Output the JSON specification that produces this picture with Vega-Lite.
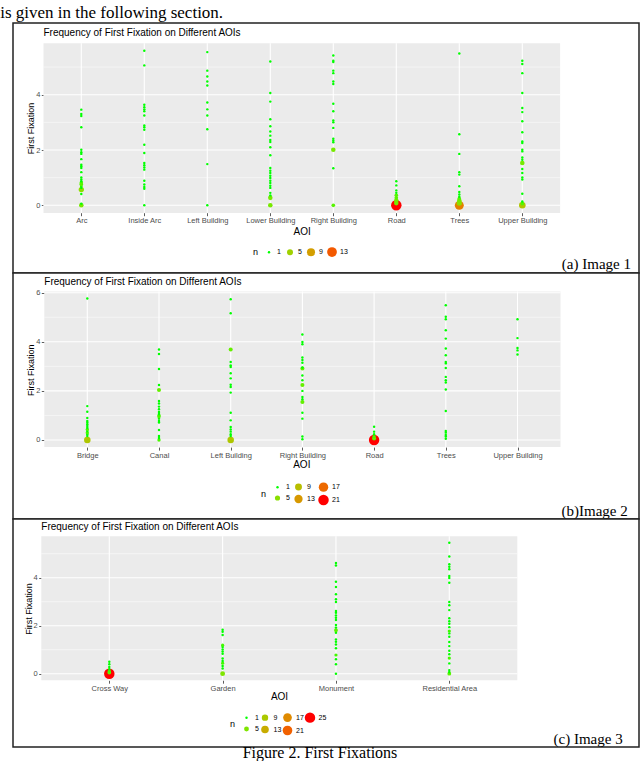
{
"$schema": "https://vega.github.io/schema/vega-lite/v6.json",
"padding": {"left": 0, "top": 4, "right": 0, "bottom": 0},
"background": "white",
"bounds": "flush",
"title": {"text": "is given in the following section.", "anchor": "start", "font": "Liberation Serif", "fontSize": 17, "fontWeight": "normal", "color": "#000", "dx": -12, "offset": 0},
"datasets": {
"p1": [
{"AOI":"Arc","ff":0,"n":3},{"AOI":"Arc","ff":0.06,"n":1},{"AOI":"Arc","ff":0.41,"n":1},{"AOI":"Arc","ff":0.57,"n":4},{"AOI":"Arc","ff":0.63,"n":1},{"AOI":"Arc","ff":0.69,"n":1},{"AOI":"Arc","ff":0.75,"n":2},{"AOI":"Arc","ff":0.81,"n":2},{"AOI":"Arc","ff":0.87,"n":1},{"AOI":"Arc","ff":0.93,"n":1},{"AOI":"Arc","ff":1.01,"n":1},{"AOI":"Arc","ff":1.2,"n":1},{"AOI":"Arc","ff":1.35,"n":1},{"AOI":"Arc","ff":1.41,"n":1},{"AOI":"Arc","ff":1.47,"n":1},{"AOI":"Arc","ff":1.67,"n":1},{"AOI":"Arc","ff":1.86,"n":1},{"AOI":"Arc","ff":1.92,"n":1},{"AOI":"Arc","ff":2.01,"n":1},{"AOI":"Arc","ff":2.82,"n":1},{"AOI":"Arc","ff":3.23,"n":1},{"AOI":"Arc","ff":3.3,"n":1},{"AOI":"Arc","ff":3.46,"n":1},
{"AOI":"Inside Arc","ff":0,"n":1},{"AOI":"Inside Arc","ff":0.6,"n":1},{"AOI":"Inside Arc","ff":0.66,"n":1},{"AOI":"Inside Arc","ff":0.75,"n":1},{"AOI":"Inside Arc","ff":0.89,"n":1},{"AOI":"Inside Arc","ff":1.29,"n":1},{"AOI":"Inside Arc","ff":1.37,"n":1},{"AOI":"Inside Arc","ff":1.45,"n":1},{"AOI":"Inside Arc","ff":1.53,"n":1},{"AOI":"Inside Arc","ff":1.89,"n":1},{"AOI":"Inside Arc","ff":2.19,"n":1},{"AOI":"Inside Arc","ff":2.73,"n":1},{"AOI":"Inside Arc","ff":2.82,"n":1},{"AOI":"Inside Arc","ff":2.89,"n":1},{"AOI":"Inside Arc","ff":3.25,"n":1},{"AOI":"Inside Arc","ff":3.4,"n":1},{"AOI":"Inside Arc","ff":3.47,"n":1},{"AOI":"Inside Arc","ff":3.55,"n":1},{"AOI":"Inside Arc","ff":3.64,"n":1},{"AOI":"Inside Arc","ff":5.06,"n":1},{"AOI":"Inside Arc","ff":5.59,"n":1},
{"AOI":"Left Building","ff":0,"n":1},{"AOI":"Left Building","ff":1.49,"n":1},{"AOI":"Left Building","ff":2.75,"n":1},{"AOI":"Left Building","ff":3.25,"n":1},{"AOI":"Left Building","ff":3.47,"n":1},{"AOI":"Left Building","ff":3.72,"n":1},{"AOI":"Left Building","ff":4.33,"n":1},{"AOI":"Left Building","ff":4.48,"n":1},{"AOI":"Left Building","ff":4.66,"n":1},{"AOI":"Left Building","ff":4.87,"n":1},{"AOI":"Left Building","ff":5.54,"n":1},
{"AOI":"Lower Building","ff":0,"n":3},{"AOI":"Lower Building","ff":0.27,"n":3},{"AOI":"Lower Building","ff":0.36,"n":1},{"AOI":"Lower Building","ff":0.45,"n":1},{"AOI":"Lower Building","ff":0.63,"n":1},{"AOI":"Lower Building","ff":0.71,"n":1},{"AOI":"Lower Building","ff":0.81,"n":1},{"AOI":"Lower Building","ff":0.89,"n":1},{"AOI":"Lower Building","ff":0.99,"n":1},{"AOI":"Lower Building","ff":1.07,"n":1},{"AOI":"Lower Building","ff":1.17,"n":1},{"AOI":"Lower Building","ff":1.25,"n":1},{"AOI":"Lower Building","ff":1.35,"n":1},{"AOI":"Lower Building","ff":1.81,"n":1},{"AOI":"Lower Building","ff":2.1,"n":1},{"AOI":"Lower Building","ff":2.29,"n":1},{"AOI":"Lower Building","ff":2.36,"n":1},{"AOI":"Lower Building","ff":2.52,"n":1},{"AOI":"Lower Building","ff":2.67,"n":1},{"AOI":"Lower Building","ff":2.86,"n":1},{"AOI":"Lower Building","ff":3.11,"n":1},{"AOI":"Lower Building","ff":3.75,"n":1},{"AOI":"Lower Building","ff":4.06,"n":1},{"AOI":"Lower Building","ff":5.2,"n":1},
{"AOI":"Right Building","ff":0,"n":2},{"AOI":"Right Building","ff":1.34,"n":1},{"AOI":"Right Building","ff":2.01,"n":3},{"AOI":"Right Building","ff":2.28,"n":1},{"AOI":"Right Building","ff":2.34,"n":1},{"AOI":"Right Building","ff":2.41,"n":1},{"AOI":"Right Building","ff":2.8,"n":1},{"AOI":"Right Building","ff":3.0,"n":1},{"AOI":"Right Building","ff":3.07,"n":1},{"AOI":"Right Building","ff":3.4,"n":1},{"AOI":"Right Building","ff":3.67,"n":1},{"AOI":"Right Building","ff":4.39,"n":1},{"AOI":"Right Building","ff":4.48,"n":1},{"AOI":"Right Building","ff":4.78,"n":1},{"AOI":"Right Building","ff":4.87,"n":1},{"AOI":"Right Building","ff":5.18,"n":1},{"AOI":"Right Building","ff":5.23,"n":1},{"AOI":"Right Building","ff":5.42,"n":1},
{"AOI":"Road","ff":0,"n":15},{"AOI":"Road","ff":0.08,"n":3},{"AOI":"Road","ff":0.17,"n":3},{"AOI":"Road","ff":0.27,"n":2},{"AOI":"Road","ff":0.36,"n":2},{"AOI":"Road","ff":0.45,"n":1},{"AOI":"Road","ff":0.54,"n":1},{"AOI":"Road","ff":0.72,"n":1},{"AOI":"Road","ff":0.87,"n":1},
{"AOI":"Trees","ff":0,"n":11},{"AOI":"Trees","ff":0.08,"n":4},{"AOI":"Trees","ff":0.17,"n":3},{"AOI":"Trees","ff":0.24,"n":2},{"AOI":"Trees","ff":0.31,"n":1},{"AOI":"Trees","ff":0.39,"n":1},{"AOI":"Trees","ff":0.48,"n":1},{"AOI":"Trees","ff":0.69,"n":1},{"AOI":"Trees","ff":1.11,"n":1},{"AOI":"Trees","ff":1.2,"n":1},{"AOI":"Trees","ff":1.86,"n":1},{"AOI":"Trees","ff":2.57,"n":1},{"AOI":"Trees","ff":5.49,"n":1},
{"AOI":"Upper Building","ff":0,"n":6},{"AOI":"Upper Building","ff":0.06,"n":2},{"AOI":"Upper Building","ff":0.14,"n":1},{"AOI":"Upper Building","ff":0.42,"n":1},{"AOI":"Upper Building","ff":0.93,"n":1},{"AOI":"Upper Building","ff":1.01,"n":1},{"AOI":"Upper Building","ff":1.17,"n":1},{"AOI":"Upper Building","ff":1.31,"n":1},{"AOI":"Upper Building","ff":1.53,"n":3},{"AOI":"Upper Building","ff":1.65,"n":1},{"AOI":"Upper Building","ff":1.73,"n":1},{"AOI":"Upper Building","ff":1.95,"n":1},{"AOI":"Upper Building","ff":2.01,"n":1},{"AOI":"Upper Building","ff":2.25,"n":1},{"AOI":"Upper Building","ff":2.31,"n":1},{"AOI":"Upper Building","ff":2.64,"n":1},{"AOI":"Upper Building","ff":3.04,"n":1},{"AOI":"Upper Building","ff":3.37,"n":1},{"AOI":"Upper Building","ff":3.52,"n":1},{"AOI":"Upper Building","ff":4.06,"n":1},{"AOI":"Upper Building","ff":4.78,"n":1},{"AOI":"Upper Building","ff":5.11,"n":1},{"AOI":"Upper Building","ff":5.23,"n":1}
],
"p2": [
{"AOI":"Bridge","ff":0,"n":8},{"AOI":"Bridge","ff":0.16,"n":1},{"AOI":"Bridge","ff":0.23,"n":1},{"AOI":"Bridge","ff":0.3,"n":2},{"AOI":"Bridge","ff":0.37,"n":1},{"AOI":"Bridge","ff":0.43,"n":2},{"AOI":"Bridge","ff":0.5,"n":1},{"AOI":"Bridge","ff":0.57,"n":1},{"AOI":"Bridge","ff":0.64,"n":1},{"AOI":"Bridge","ff":0.71,"n":1},{"AOI":"Bridge","ff":0.77,"n":1},{"AOI":"Bridge","ff":0.9,"n":1},{"AOI":"Bridge","ff":1.15,"n":1},{"AOI":"Bridge","ff":1.38,"n":1},{"AOI":"Bridge","ff":5.76,"n":1},
{"AOI":"Canal","ff":0,"n":2},{"AOI":"Canal","ff":0.08,"n":1},{"AOI":"Canal","ff":0.16,"n":1},{"AOI":"Canal","ff":0.41,"n":1},{"AOI":"Canal","ff":0.71,"n":1},{"AOI":"Canal","ff":0.77,"n":1},{"AOI":"Canal","ff":0.87,"n":1},{"AOI":"Canal","ff":0.95,"n":2},{"AOI":"Canal","ff":1.0,"n":2},{"AOI":"Canal","ff":1.06,"n":1},{"AOI":"Canal","ff":1.14,"n":1},{"AOI":"Canal","ff":1.25,"n":1},{"AOI":"Canal","ff":1.36,"n":1},{"AOI":"Canal","ff":1.49,"n":1},{"AOI":"Canal","ff":1.59,"n":1},{"AOI":"Canal","ff":2.04,"n":3},{"AOI":"Canal","ff":2.24,"n":1},{"AOI":"Canal","ff":2.89,"n":1},{"AOI":"Canal","ff":3.5,"n":1},{"AOI":"Canal","ff":3.69,"n":1},
{"AOI":"Left Building","ff":0,"n":8},{"AOI":"Left Building","ff":0.16,"n":1},{"AOI":"Left Building","ff":0.23,"n":1},{"AOI":"Left Building","ff":0.34,"n":1},{"AOI":"Left Building","ff":0.43,"n":1},{"AOI":"Left Building","ff":0.53,"n":1},{"AOI":"Left Building","ff":0.8,"n":1},{"AOI":"Left Building","ff":1.11,"n":1},{"AOI":"Left Building","ff":1.93,"n":1},{"AOI":"Left Building","ff":2.16,"n":1},{"AOI":"Left Building","ff":2.25,"n":1},{"AOI":"Left Building","ff":2.51,"n":1},{"AOI":"Left Building","ff":2.72,"n":1},{"AOI":"Left Building","ff":2.97,"n":1},{"AOI":"Left Building","ff":3.04,"n":1},{"AOI":"Left Building","ff":3.18,"n":1},{"AOI":"Left Building","ff":3.69,"n":3},{"AOI":"Left Building","ff":5.16,"n":1},{"AOI":"Left Building","ff":5.73,"n":1},
{"AOI":"Right Building","ff":0.03,"n":1},{"AOI":"Right Building","ff":0.14,"n":1},{"AOI":"Right Building","ff":0.87,"n":1},{"AOI":"Right Building","ff":1.11,"n":1},{"AOI":"Right Building","ff":1.55,"n":3},{"AOI":"Right Building","ff":1.66,"n":1},{"AOI":"Right Building","ff":1.75,"n":1},{"AOI":"Right Building","ff":2.0,"n":1},{"AOI":"Right Building","ff":2.24,"n":3},{"AOI":"Right Building","ff":2.43,"n":1},{"AOI":"Right Building","ff":2.63,"n":1},{"AOI":"Right Building","ff":2.91,"n":3},{"AOI":"Right Building","ff":2.95,"n":1},{"AOI":"Right Building","ff":3.15,"n":1},{"AOI":"Right Building","ff":3.26,"n":1},{"AOI":"Right Building","ff":3.36,"n":1},{"AOI":"Right Building","ff":3.9,"n":1},{"AOI":"Right Building","ff":3.99,"n":1},{"AOI":"Right Building","ff":4.3,"n":1},
{"AOI":"Road","ff":0,"n":21},{"AOI":"Road","ff":0.06,"n":3},{"AOI":"Road","ff":0.14,"n":2},{"AOI":"Road","ff":0.23,"n":1},{"AOI":"Road","ff":0.34,"n":1},{"AOI":"Road","ff":0.54,"n":1},
{"AOI":"Trees","ff":0.05,"n":1},{"AOI":"Trees","ff":0.14,"n":1},{"AOI":"Trees","ff":0.2,"n":1},{"AOI":"Trees","ff":0.3,"n":1},{"AOI":"Trees","ff":0.37,"n":1},{"AOI":"Trees","ff":1.18,"n":1},{"AOI":"Trees","ff":2.06,"n":1},{"AOI":"Trees","ff":2.34,"n":1},{"AOI":"Trees","ff":2.43,"n":1},{"AOI":"Trees","ff":2.57,"n":1},{"AOI":"Trees","ff":2.93,"n":1},{"AOI":"Trees","ff":3.12,"n":1},{"AOI":"Trees","ff":3.18,"n":1},{"AOI":"Trees","ff":3.45,"n":1},{"AOI":"Trees","ff":3.73,"n":1},{"AOI":"Trees","ff":4.13,"n":1},{"AOI":"Trees","ff":4.47,"n":1},{"AOI":"Trees","ff":4.92,"n":1},{"AOI":"Trees","ff":5.02,"n":1},{"AOI":"Trees","ff":5.49,"n":1},
{"AOI":"Upper Building","ff":3.48,"n":1},{"AOI":"Upper Building","ff":3.65,"n":1},{"AOI":"Upper Building","ff":3.75,"n":1},{"AOI":"Upper Building","ff":4.15,"n":1},{"AOI":"Upper Building","ff":4.92,"n":1}
],
"p3": [
{"AOI":"Cross Way","ff":0,"n":25},{"AOI":"Cross Way","ff":0.05,"n":3},{"AOI":"Cross Way","ff":0.11,"n":2},{"AOI":"Cross Way","ff":0.19,"n":1},{"AOI":"Cross Way","ff":0.28,"n":1},{"AOI":"Cross Way","ff":0.39,"n":1},{"AOI":"Cross Way","ff":0.5,"n":1},
{"AOI":"Garden","ff":0,"n":5},{"AOI":"Garden","ff":0.22,"n":1},{"AOI":"Garden","ff":0.32,"n":1},{"AOI":"Garden","ff":0.44,"n":2},{"AOI":"Garden","ff":0.53,"n":1},{"AOI":"Garden","ff":0.63,"n":1},{"AOI":"Garden","ff":0.83,"n":1},{"AOI":"Garden","ff":0.92,"n":1},{"AOI":"Garden","ff":1.01,"n":1},{"AOI":"Garden","ff":1.11,"n":1},{"AOI":"Garden","ff":1.19,"n":2},{"AOI":"Garden","ff":1.61,"n":1},{"AOI":"Garden","ff":1.75,"n":1},{"AOI":"Garden","ff":1.83,"n":1},
{"AOI":"Monument","ff":0,"n":1},{"AOI":"Monument","ff":0.39,"n":1},{"AOI":"Monument","ff":0.6,"n":1},{"AOI":"Monument","ff":0.78,"n":2},{"AOI":"Monument","ff":1.06,"n":1},{"AOI":"Monument","ff":1.22,"n":1},{"AOI":"Monument","ff":1.33,"n":1},{"AOI":"Monument","ff":1.43,"n":1},{"AOI":"Monument","ff":1.71,"n":1},{"AOI":"Monument","ff":1.81,"n":3},{"AOI":"Monument","ff":1.92,"n":1},{"AOI":"Monument","ff":2.03,"n":1},{"AOI":"Monument","ff":2.24,"n":1},{"AOI":"Monument","ff":2.33,"n":1},{"AOI":"Monument","ff":2.43,"n":1},{"AOI":"Monument","ff":2.54,"n":1},{"AOI":"Monument","ff":2.61,"n":1},{"AOI":"Monument","ff":2.99,"n":1},{"AOI":"Monument","ff":3.1,"n":1},{"AOI":"Monument","ff":3.31,"n":1},{"AOI":"Monument","ff":3.61,"n":1},{"AOI":"Monument","ff":3.83,"n":1},{"AOI":"Monument","ff":4.51,"n":1},{"AOI":"Monument","ff":4.61,"n":1},
{"AOI":"Residential Area","ff":0,"n":3},{"AOI":"Residential Area","ff":0.07,"n":1},{"AOI":"Residential Area","ff":0.15,"n":1},{"AOI":"Residential Area","ff":0.43,"n":1},{"AOI":"Residential Area","ff":0.65,"n":2},{"AOI":"Residential Area","ff":0.81,"n":1},{"AOI":"Residential Area","ff":0.96,"n":1},{"AOI":"Residential Area","ff":1.15,"n":1},{"AOI":"Residential Area","ff":1.32,"n":1},{"AOI":"Residential Area","ff":1.54,"n":1},{"AOI":"Residential Area","ff":1.68,"n":1},{"AOI":"Residential Area","ff":1.78,"n":2},{"AOI":"Residential Area","ff":1.94,"n":1},{"AOI":"Residential Area","ff":2.08,"n":1},{"AOI":"Residential Area","ff":2.19,"n":1},{"AOI":"Residential Area","ff":2.31,"n":1},{"AOI":"Residential Area","ff":2.65,"n":1},{"AOI":"Residential Area","ff":2.85,"n":1},{"AOI":"Residential Area","ff":2.99,"n":1},{"AOI":"Residential Area","ff":3.79,"n":1},{"AOI":"Residential Area","ff":3.99,"n":1},{"AOI":"Residential Area","ff":4.07,"n":1},{"AOI":"Residential Area","ff":4.35,"n":1},{"AOI":"Residential Area","ff":4.46,"n":1},{"AOI":"Residential Area","ff":4.56,"n":1},{"AOI":"Residential Area","ff":4.88,"n":1},{"AOI":"Residential Area","ff":5.46,"n":1}
]
},
"resolve": {"scale": {"x": "independent", "y": "independent", "color": "independent", "size": "independent"}, "legend": {"color": "independent", "size": "independent"}},
"vconcat": [
{
"width": 626, "height": 250,
"layer": [
{"data": {"values": [{}]}, "mark": {"type": "rect", "color": "#ebebeb", "xOffset": -37.8, "x2Offset": 37.8},
 "encoding": {"x": {"datum": "Arc", "type": "nominal", "scale": {"type": "point", "domain": ["Arc","Inside Arc","Left Building","Lower Building","Right Building","Road","Trees","Upper Building"], "range": [68.3, 509.3], "padding": 0}}, "x2": {"datum": "Upper Building"}, "y": {"datum": -0.28, "type": "quantitative"}, "y2": {"datum": 5.86}}},
{"data": {"values": [{"ff": 1}, {"ff": 3}, {"ff": 5}]}, "mark": {"type": "rule", "color": "white", "strokeWidth": 0.5, "xOffset": -37.8, "x2Offset": 37.8},
 "encoding": {"y": {"field": "ff", "type": "quantitative"}, "x": {"datum": "Arc", "type": "nominal", "scale": {"type": "point", "domain": ["Arc","Inside Arc","Left Building","Lower Building","Right Building","Road","Trees","Upper Building"], "range": [68.3, 509.3], "padding": 0}}, "x2": {"datum": "Upper Building"}}},
{"data": {"values": [{"ff": 0}, {"ff": 2}, {"ff": 4}]}, "mark": {"type": "rule", "color": "white", "strokeWidth": 1.1, "xOffset": -37.8, "x2Offset": 37.8},
 "encoding": {"y": {"field": "ff", "type": "quantitative"}, "x": {"datum": "Arc", "type": "nominal", "scale": {"type": "point", "domain": ["Arc","Inside Arc","Left Building","Lower Building","Right Building","Road","Trees","Upper Building"], "range": [68.3, 509.3], "padding": 0}}, "x2": {"datum": "Upper Building"}}},
{"data": {"values": [{"AOI":"Arc"},{"AOI":"Inside Arc"},{"AOI":"Left Building"},{"AOI":"Lower Building"},{"AOI":"Right Building"},{"AOI":"Road"},{"AOI":"Trees"},{"AOI":"Upper Building"}]}, "mark": {"type": "rule", "color": "white", "strokeWidth": 1.1},
 "encoding": {"x": {"field": "AOI", "type": "nominal", "scale": {"type": "point", "domain": ["Arc","Inside Arc","Left Building","Lower Building","Right Building","Road","Trees","Upper Building"], "range": [68.3, 509.3], "padding": 0}}, "y": {"datum": -0.28, "type": "quantitative"}, "y2": {"datum": 5.86}}},
{"data": {"name": "p1"}, "mark": {"type": "circle", "opacity": 1},
 "encoding": {
  "x": {"field": "AOI", "type": "nominal",
   "scale": {"type": "point", "domain": ["Arc","Inside Arc","Left Building","Lower Building","Right Building","Road","Trees","Upper Building"], "range": [68.3, 509.3], "padding": 0},
   "axis": {"orient": "bottom", "offset": -60.3, "title": "AOI", "titleX": 288.7, "titleY": 18.5, "titleBaseline": "middle"}},
  "y": {"field": "ff", "type": "quantitative",
   "scale": {"domain": [-2.448, 6.593], "nice": false, "zero": false},
   "axis": {"values": [0, 2, 4], "offset": -31.3, "title": "First Fixation", "titleX": -9, "titleY": 105}},
  "color": {"field": "n", "type": "quantitative", "scale": {"domain": [1, 15], "range": ["#00ff00", "#ff0000"], "interpolate": "lab"},
   "legend": {"type": "symbol", "title": "n", "values": [1, 5, 9, 13], "columns": 4, "orient": "none", "legendX": 240, "legendY": 224, "direction": "horizontal"}},
  "size": {"field": "n", "type": "quantitative", "scale": {"domain": [1, 15], "range": [6, 110]},
   "legend": {"title": "n", "values": [1, 5, 9, 13], "columns": 4, "orient": "none", "legendX": 240, "legendY": 224, "direction": "horizontal"}}
 }},
{"data": {"values": [{"t": "Frequency of First Fixation on Different AOIs"}]}, "mark": {"type": "text", "align": "left", "baseline": "alphabetic", "font": "Liberation Sans", "fontSize": 10, "color": "#000", "dx": -37.8, "dy": -7.3},
 "encoding": {"x": {"datum": "Arc", "type": "nominal", "scale": {"type": "point", "domain": ["Arc","Inside Arc","Left Building","Lower Building","Right Building","Road","Trees","Upper Building"], "range": [68.3, 509.3], "padding": 0}}, "y": {"datum": 5.86, "type": "quantitative"}, "text": {"field": "t"}}},
{"data": {"values": [{"cap": "(a) Image 1"}]}, "mark": {"type": "text", "align": "right", "baseline": "middle", "font": "Liberation Serif", "fontSize": 15, "color": "#000", "dx": -8, "dy": -8.7},
 "encoding": {"x": {"value": "width"}, "y": {"value": "height"}, "text": {"field": "cap"}}}
]
},
{
"width": 626, "height": 246,
"layer": [
{"data": {"values": [{}]}, "mark": {"type": "rect", "color": "#ebebeb", "xOffset": -43, "x2Offset": 43},
 "encoding": {"x": {"datum": "Bridge", "type": "nominal", "scale": {"type": "point", "domain": ["Bridge","Canal","Left Building","Right Building","Road","Trees","Upper Building"], "range": [74.3, 504.5], "padding": 0}}, "x2": {"datum": "Upper Building"}, "y": {"datum": -0.29, "type": "quantitative"}, "y2": {"datum": 6.05}}},
{"data": {"values": [{"ff": 1}, {"ff": 3}, {"ff": 5}]}, "mark": {"type": "rule", "color": "white", "strokeWidth": 0.5, "xOffset": -43, "x2Offset": 43},
 "encoding": {"y": {"field": "ff", "type": "quantitative"}, "x": {"datum": "Bridge", "type": "nominal", "scale": {"type": "point", "domain": ["Bridge","Canal","Left Building","Right Building","Road","Trees","Upper Building"], "range": [74.3, 504.5], "padding": 0}}, "x2": {"datum": "Upper Building"}}},
{"data": {"values": [{"ff": 0}, {"ff": 2}, {"ff": 4}, {"ff": 6}]}, "mark": {"type": "rule", "color": "white", "strokeWidth": 1.1, "xOffset": -43, "x2Offset": 43},
 "encoding": {"y": {"field": "ff", "type": "quantitative"}, "x": {"datum": "Bridge", "type": "nominal", "scale": {"type": "point", "domain": ["Bridge","Canal","Left Building","Right Building","Road","Trees","Upper Building"], "range": [74.3, 504.5], "padding": 0}}, "x2": {"datum": "Upper Building"}}},
{"data": {"values": [{"AOI":"Bridge"},{"AOI":"Canal"},{"AOI":"Left Building"},{"AOI":"Right Building"},{"AOI":"Road"},{"AOI":"Trees"},{"AOI":"Upper Building"}]}, "mark": {"type": "rule", "color": "white", "strokeWidth": 1.1},
 "encoding": {"x": {"field": "AOI", "type": "nominal", "scale": {"type": "point", "domain": ["Bridge","Canal","Left Building","Right Building","Road","Trees","Upper Building"], "range": [74.3, 504.5], "padding": 0}}, "y": {"datum": -0.29, "type": "quantitative"}, "y2": {"datum": 6.05}}},
{"data": {"name": "p2"}, "mark": {"type": "circle", "opacity": 1},
 "encoding": {
  "x": {"field": "AOI", "type": "nominal",
   "scale": {"type": "point", "domain": ["Bridge","Canal","Left Building","Right Building","Road","Trees","Upper Building"], "range": [74.3, 504.5], "padding": 0},
   "axis": {"orient": "bottom", "offset": -71.9, "title": "AOI", "titleX": 288.3, "titleY": 17.2, "titleBaseline": "middle"}},
  "y": {"field": "ff", "type": "quantitative",
   "scale": {"domain": [-3.218, 6.802], "nice": false, "zero": false},
   "axis": {"values": [0, 2, 4, 6], "offset": -31.3, "title": "First Fixation", "titleX": -9, "titleY": 96.7}},
  "color": {"field": "n", "type": "quantitative", "scale": {"domain": [1, 21], "range": ["#00ff00", "#ff0000"], "interpolate": "lab"},
   "legend": {"type": "symbol", "title": "n", "values": [1, 9, 17, 5, 13, 21], "columns": 3, "columnPadding": 3, "orient": "none", "legendX": 248, "legendY": 209, "direction": "horizontal"}},
  "size": {"field": "n", "type": "quantitative", "scale": {"domain": [1, 21], "range": [6, 110]},
   "legend": {"title": "n", "values": [1, 9, 17, 5, 13, 21], "columns": 3, "columnPadding": 3, "orient": "none", "legendX": 248, "legendY": 209, "direction": "horizontal"}}
 }},
{"data": {"values": [{"t": "Frequency of First Fixation on Different AOIs"}]}, "mark": {"type": "text", "align": "left", "baseline": "alphabetic", "font": "Liberation Sans", "fontSize": 10, "color": "#000", "dx": -43, "dy": -6},
 "encoding": {"x": {"datum": "Bridge", "type": "nominal", "scale": {"type": "point", "domain": ["Bridge","Canal","Left Building","Right Building","Road","Trees","Upper Building"], "range": [74.3, 504.5], "padding": 0}}, "y": {"datum": 6.05, "type": "quantitative"}, "text": {"field": "t"}}},
{"data": {"values": [{"cap": "(b)Image 2"}]}, "mark": {"type": "text", "align": "right", "baseline": "middle", "font": "Liberation Serif", "fontSize": 15, "color": "#000", "dx": -11.3, "dy": -8},
 "encoding": {"x": {"value": "width"}, "y": {"value": "height"}, "text": {"field": "cap"}}}
]
},
{
"width": 626, "height": 228,
"layer": [
{"data": {"values": [{}]}, "mark": {"type": "rect", "color": "#ebebeb", "xOffset": -68, "x2Offset": 68},
 "encoding": {"x": {"datum": "Cross Way", "type": "nominal", "scale": {"type": "point", "domain": ["Cross Way","Garden","Monument","Residential Area"], "range": [96.3, 436.3], "padding": 0}}, "x2": {"datum": "Residential Area"}, "y": {"datum": -0.27, "type": "quantitative"}, "y2": {"datum": 5.73}}},
{"data": {"values": [{"ff": 1}, {"ff": 3}, {"ff": 5}]}, "mark": {"type": "rule", "color": "white", "strokeWidth": 0.5, "xOffset": -68, "x2Offset": 68},
 "encoding": {"y": {"field": "ff", "type": "quantitative"}, "x": {"datum": "Cross Way", "type": "nominal", "scale": {"type": "point", "domain": ["Cross Way","Garden","Monument","Residential Area"], "range": [96.3, 436.3], "padding": 0}}, "x2": {"datum": "Residential Area"}}},
{"data": {"values": [{"ff": 0}, {"ff": 2}, {"ff": 4}]}, "mark": {"type": "rule", "color": "white", "strokeWidth": 1.1, "xOffset": -68, "x2Offset": 68},
 "encoding": {"y": {"field": "ff", "type": "quantitative"}, "x": {"datum": "Cross Way", "type": "nominal", "scale": {"type": "point", "domain": ["Cross Way","Garden","Monument","Residential Area"], "range": [96.3, 436.3], "padding": 0}}, "x2": {"datum": "Residential Area"}}},
{"data": {"values": [{"AOI":"Cross Way"},{"AOI":"Garden"},{"AOI":"Monument"},{"AOI":"Residential Area"}]}, "mark": {"type": "rule", "color": "white", "strokeWidth": 1.1},
 "encoding": {"x": {"field": "AOI", "type": "nominal", "scale": {"type": "point", "domain": ["Cross Way","Garden","Monument","Residential Area"], "range": [96.3, 436.3], "padding": 0}}, "y": {"datum": -0.27, "type": "quantitative"}, "y2": {"datum": 5.73}}},
{"data": {"name": "p3"}, "mark": {"type": "circle", "opacity": 1},
 "encoding": {
  "x": {"field": "AOI", "type": "nominal",
   "scale": {"type": "point", "domain": ["Cross Way","Garden","Monument","Residential Area"], "range": [96.3, 436.3], "padding": 0},
   "axis": {"orient": "bottom", "offset": -66.8, "title": "AOI", "titleX": 266, "titleY": 16.5, "titleBaseline": "middle"}},
  "y": {"field": "ff", "type": "quantitative",
   "scale": {"domain": [-3.054, 6.446], "nice": false, "zero": false},
   "axis": {"values": [0, 2, 4], "offset": -28.7, "title": "First Fixation", "titleX": -8, "titleY": 89.5}},
  "color": {"field": "n", "type": "quantitative", "scale": {"domain": [1, 25], "range": ["#00ff00", "#ff0000"], "interpolate": "lab"},
   "legend": {"type": "symbol", "title": "n", "values": [1, 9, 17, 25, 5, 13, 21], "columns": 4, "columnPadding": 0.5, "orient": "none", "legendX": 217, "legendY": 193, "direction": "horizontal"}},
  "size": {"field": "n", "type": "quantitative", "scale": {"domain": [1, 25], "range": [6, 110]},
   "legend": {"title": "n", "values": [1, 9, 17, 25, 5, 13, 21], "columns": 4, "columnPadding": 0.5, "orient": "none", "legendX": 217, "legendY": 193, "direction": "horizontal"}}
 }},
{"data": {"values": [{"t": "Frequency of First Fixation on Different AOIs"}]}, "mark": {"type": "text", "align": "left", "baseline": "alphabetic", "font": "Liberation Sans", "fontSize": 10, "color": "#000", "dx": -68, "dy": -6},
 "encoding": {"x": {"datum": "Cross Way", "type": "nominal", "scale": {"type": "point", "domain": ["Cross Way","Garden","Monument","Residential Area"], "range": [96.3, 436.3], "padding": 0}}, "y": {"datum": 5.73, "type": "quantitative"}, "text": {"field": "t"}}},
{"data": {"values": [{"cap": "(c) Image 3"}]}, "mark": {"type": "text", "align": "right", "baseline": "middle", "font": "Liberation Serif", "fontSize": 15, "color": "#000", "dx": -16.3, "dy": -7.7},
 "encoding": {"x": {"value": "width"}, "y": {"value": "height"}, "text": {"field": "cap"}}}
]
},
{
"width": 626, "height": 12,
"view": {"stroke": null},
"data": {"values": [{"t": "Figure 2. First Fixations"}]},
"mark": {"type": "text", "font": "Liberation Serif", "fontSize": 16, "color": "#000", "baseline": "middle", "dx": -6},
"encoding": {"text": {"field": "t"}}
}
],
"spacing": 0,
"config": {
 "view": {"stroke": "#222", "strokeWidth": 1.5, "fill": "white"},
 "axis": {"grid": false, "domain": false, "ticks": true, "tickSize": 3, "tickColor": "#333", "tickWidth": 0.8, "zindex": 1,
  "labelFont": "Liberation Sans", "labelFontSize": 7.5, "labelColor": "#4d4d4d", "labelPadding": 1.5, "labelAngle": 0,
  "titleFont": "Liberation Sans", "titleFontWeight": "normal", "titleColor": "#000"},
 "axisX": {"titleFontSize": 10, "labelPadding": 1},
 "axisY": {"titleFontSize": 9, "titleAngle": 270, "titleBaseline": "bottom", "titleAlign": "center"},
 "legend": {"symbolType": "circle", "labelFont": "Liberation Sans", "labelFontSize": 7, "labelColor": "#000",
  "titleFont": "Liberation Sans", "titleFontSize": 9, "titleFontWeight": "normal", "titleColor": "#000",
  "titleOrient": "left", "titleAnchor": "middle", "symbolStrokeWidth": 0, "symbolOpacity": 1, "columnPadding": 4, "rowPadding": 1.5, "labelOffset": 3}
}
}
